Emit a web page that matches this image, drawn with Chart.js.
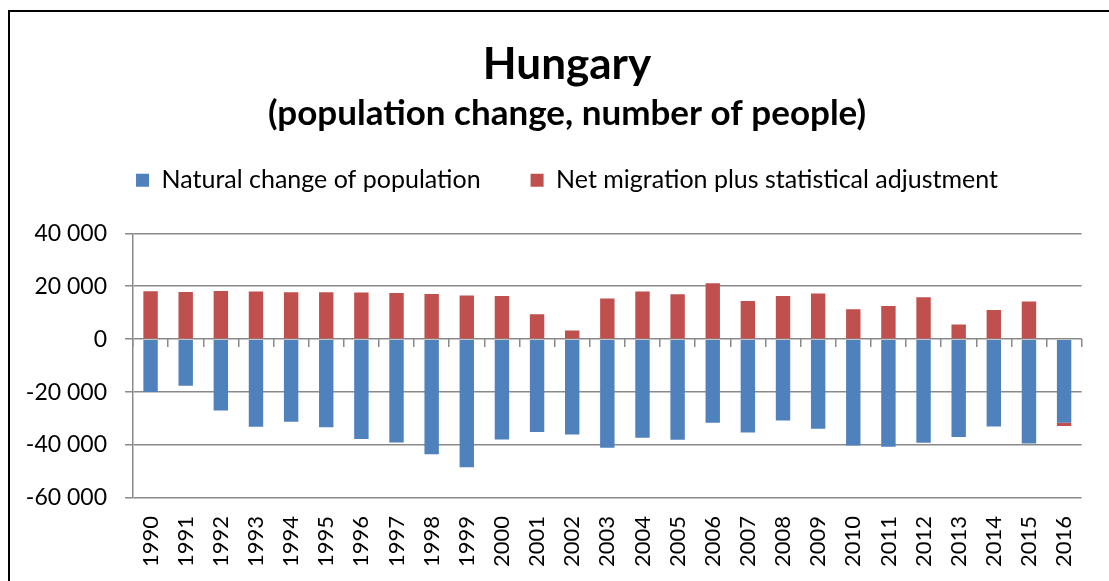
<!DOCTYPE html>
<html>
<head>
<meta charset="utf-8">
<script src="https://cdn.jsdelivr.net/npm/chart.js@4/dist/chart.umd.min.js"></script>
<style>
  html, body { margin: 0; padding: 0; background: #fff; overflow: hidden; }
  .frame { position: absolute; left: 8px; top: 10px; width: 1300px; height: 800px; border: 2px solid #000; }
  .root_chart { position: absolute; left: 0; top: 0; width: 1109px; height: 581px; }
</style>
</head>
<body>
<div class="frame"></div>
<div class="root_chart"><canvas class="pop_canvas" width="1109" height="581"></canvas></div>
<script>
const years = ["1990", "1991", "1992", "1993", "1994", "1995", "1996", "1997", "1998", "1999",
  "2000", "2001", "2002", "2003", "2004", "2005", "2006", "2007", "2008", "2009",
  "2010", "2011", "2012", "2013", "2014", "2015", "2016"];
const naturalChange = [-19940, -17560, -26960, -33100, -31220, -33230, -37750, -39000, -43510, -48400,
  -37870, -35110, -35990, -41000, -37240, -38000, -31600, -35240, -30720, -33860,
  -40130, -40630, -39120, -37000, -32980, -39380, -31600];
const netMigration = [18100, 17850, 18230, 17970, 17720, 17720, 17590, 17470, 17090, 16460,
  16340, 9430, 3270, 15330, 17970, 16960, 21110, 14450, 16340, 17220,
  11310, 12570, 15830, 5530, 11060, 14200, -1200];
const yTicks = [-60000, -40000, -20000, 0, 20000, 40000];

const gridColor = "#8a8a8a";
const font = "Lato";

function fmt(v) {
  return String(v).replace(/\B(?=(\d{3})+(?!\d))/g, " ");
}

let ctx = document.getElementsByClassName("pop_canvas")[0];
let popChart = new Chart(ctx, {
  type: "bar",
  data: {
    labels: years,
    datasets: [
      {
        label: "Natural change of population",
        data: naturalChange,
        backgroundColor: "#4F81BD",
        borderWidth: 0
      },
      {
        label: "Net migration plus statistical adjustment",
        data: netMigration,
        backgroundColor: "#C0504D",
        borderWidth: 0
      }
    ]
  },
  options: {
    responsive: false,
    animation: false,
    // right padding is negative, the yRight spacer gives the plot its right edge back
    layout: { padding: { left: 0, right: -25, top: 0, bottom: 0 } },
    datasets: { bar: { barPercentage: 0.41, categoryPercentage: 1 } },
    plugins: {
      title: {
        display: true,
        text: "Hungary",
        color: "#000",
        font: { family: font, size: 44, weight: "bold", lineHeight: 1.2 },
        padding: { top: 38, bottom: 0 }
      },
      subtitle: {
        display: true,
        text: "(population change, number of people)",
        color: "#000",
        font: { family: font, size: 35, weight: "bold", lineHeight: 1.2 },
        padding: { top: 2, bottom: -17 }
      },
      legend: {
        position: "top",
        labels: {
          color: "#000",
          font: { family: font, size: 25 },
          boxWidth: 13,
          boxHeight: 13,
          padding: 50
        }
      },
      tooltip: { enabled: false }
    },
    scales: {
      x: {
        stacked: true,
        grid: { display: false, drawTicks: false },
        border: { display: false },
        ticks: {
          color: "#000",
          font: { family: font, size: 22 },
          minRotation: 90,
          maxRotation: 90,
          autoSkip: false,
          padding: 18
        },
        afterFit: (s) => { s.height = 83; }
      },
      xTop: {
        type: "category",
        position: "top",
        grid: { display: false },
        border: { display: false },
        ticks: { display: false },
        afterFit: (s) => { s.height = 30.5; }
      },
      xZero: {
        type: "category",
        position: { y: 0 },
        grid: { drawOnChartArea: false, drawTicks: true, tickLength: 8, color: gridColor, lineWidth: 1.5, offset: true },
        border: { display: false },
        ticks: { display: false }
      },
      y: {
        stacked: true,
        min: -60000,
        max: 40000,
        afterBuildTicks: (s) => { s.ticks = yTicks.map((v) => ({ value: v })); },
        grid: { color: gridColor, lineWidth: 1.5, tickLength: 8 },
        border: { color: gridColor, width: 1.5 },
        ticks: {
          color: "#000",
          font: { family: font, size: 23 },
          padding: 18,
          callback: (v) => fmt(v)
        },
        afterFit: (s) => { s.width = 133; }
      },
      yRight: {
        type: "linear",
        position: "right",
        grid: { display: false },
        border: { display: false },
        ticks: { display: false },
        afterFit: (s) => { s.width = 1109 + 25 - 1092; }
      }
    }
  }
});
</script>
</body>
</html>
